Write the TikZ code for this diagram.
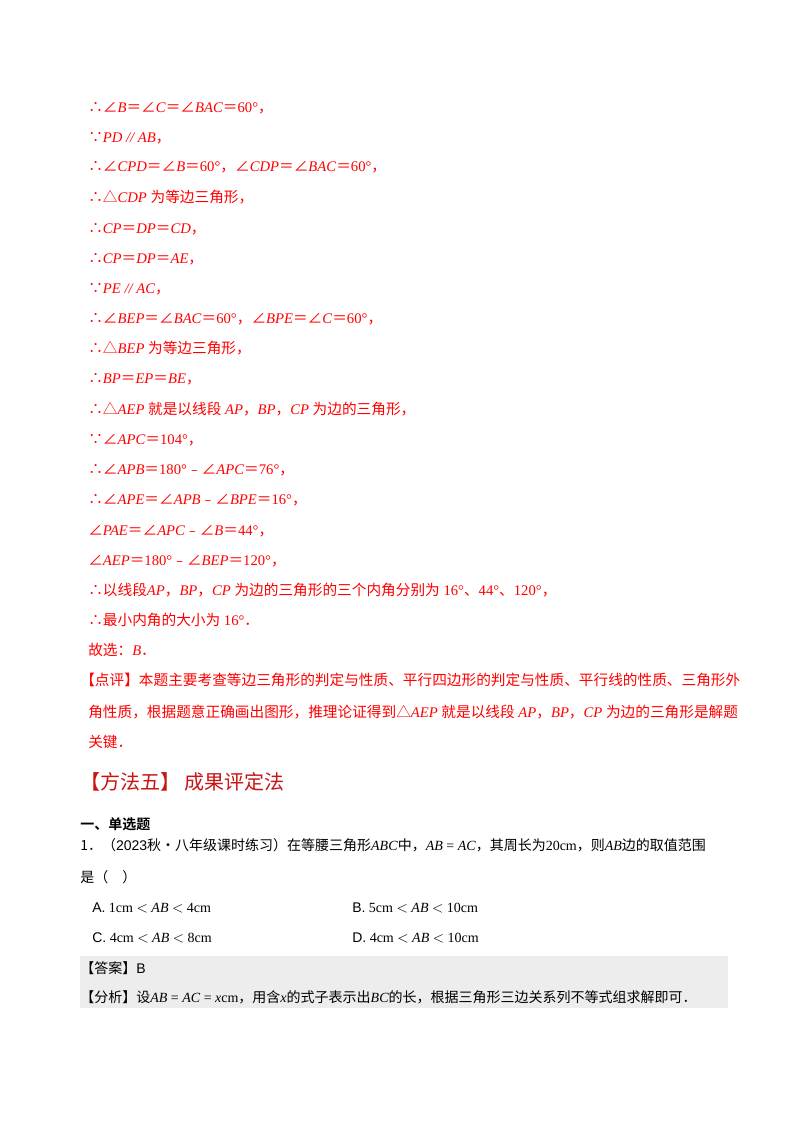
\documentclass[tikz,border=0pt]{standalone}
\usepackage{fontspec}
\setmainfont{Liberation Serif}
\newfontfamily\cjk{Noto Sans CJK SC}
\newfontfamily\cjkb{Noto Sans CJK SC Bold}
\newfontfamily\sans{Liberation Sans}
\newcommand\Z[1]{{\cjk #1}}
\newcommand\I[1]{\textit{#1}}
\definecolor{rd}{RGB}{255,0,0}
\definecolor{dr}{RGB}{200,20,20}
\begin{document}
\begin{tikzpicture}[x=0.75pt,y=-0.75pt,
  r/.style={anchor=base west,inner sep=0,text=rd,font=\fontsize{11}{13}\selectfont},
  k/.style={anchor=base west,inner sep=0,text=black,font=\fontsize{10.5}{13}\selectfont}]
\useasboundingbox (0,0) rectangle (800,1132);
\fill[white] (0,0) rectangle (800,1132);
\fill[black!7] (80,956) rectangle (728,1008);
\node[r] (l1) at (88,112) {\Z{∴∠}\I{B}\Z{＝∠}\I{C}\Z{＝∠}\I{BAC}\Z{＝}60°\Z{，}};
\node[r] (l2) at (88,142) {\Z{∵}\I{PD // AB}\Z{，}};
\node[r] (l3) at (88,171) {\Z{∴∠}\I{CPD}\Z{＝∠}\I{B}\Z{＝}60°\Z{，∠}\I{CDP}\Z{＝∠}\I{BAC}\Z{＝}60°\Z{，}};
\node[r] (l4) at (88,202) {\Z{∴△}\I{CDP} \Z{为等边三角形，}};
\node[r] (l5) at (88,233) {\Z{∴}\I{CP}\Z{＝}\I{DP}\Z{＝}\I{CD}\Z{，}};
\node[r] (l6) at (88,263) {\Z{∴}\I{CP}\Z{＝}\I{DP}\Z{＝}\I{AE}\Z{，}};
\node[r] (l7) at (88,293) {\Z{∵}\I{PE // AC}\Z{，}};
\node[r] (l8) at (88,323) {\Z{∴∠}\I{BEP}\Z{＝∠}\I{BAC}\Z{＝}60°\Z{，∠}\I{BPE}\Z{＝∠}\I{C}\Z{＝}60°\Z{，}};
\node[r] (l9) at (88,353) {\Z{∴△}\I{BEP} \Z{为等边三角形，}};
\node[r] (l10) at (88,383) {\Z{∴}\I{BP}\Z{＝}\I{EP}\Z{＝}\I{BE}\Z{，}};
\node[r] (l11) at (88,414) {\Z{∴△}\I{AEP} \Z{就是以线段} \I{AP}\Z{，}\I{BP}\Z{，}\I{CP} \Z{为边的三角形，}};
\node[r] (l12) at (88,444) {\Z{∵∠}\I{APC}\Z{＝}104°\Z{，}};
\node[r] (l13) at (88,474) {\Z{∴∠}\I{APB}\Z{＝}180°\Z{﹣∠}\I{APC}\Z{＝}76°\Z{，}};
\node[r] (l14) at (88,504) {\Z{∴∠}\I{APE}\Z{＝∠}\I{APB}\Z{﹣∠}\I{BPE}\Z{＝}16°\Z{，}};
\node[r] (l15) at (88,535) {\Z{∠}\I{PAE}\Z{＝∠}\I{APC}\Z{﹣∠}\I{B}\Z{＝}44°\Z{，}};
\node[r] (l16) at (88,565) {\Z{∠}\I{AEP}\Z{＝}180°\Z{﹣∠}\I{BEP}\Z{＝}120°\Z{，}};
\node[r] (l17) at (88,595) {\Z{∴以线段}\I{AP}\Z{，}\I{BP}\Z{，}\I{CP} \Z{为边的三角形的三个内角分别为} 16°\Z{、}44°\Z{、}120°\Z{，}};
\node[r] (l18) at (88,625) {\Z{∴最小内角的大小为} 16°\Z{．}};
\node[r] (l19) at (88,655) {\Z{故选：}\I{B}\Z{．}};
\node[r] (p1) at (80,685) {\Z{【点评】本题主要考查等边三角形的判定与性质、平行四边形的判定与性质、平行线的性质、三角形外}};
\node[r] (p2) at (88,717) {\Z{角性质，根据题意正确画出图形，推理论证得到△}\I{AEP} \Z{就是以线段} \I{AP}\Z{，}\I{BP}\Z{，}\I{CP} \Z{为边的三角形是解题}};
\node[r] (p3) at (88,747) {\Z{关键．}};
\node[anchor=base west,inner sep=0,text=dr,font=\fontsize{15}{18}\selectfont] (t) at (80,789) {\Z{【方法五】\ 成果评定法}};
\node[k] (s) at (80,829) {\cjkb 一、单选题};
\node[k] (q1) at (80,850) {\Z{1．（}{\sans 2023}\Z{秋·八年级课时练习）在等腰三角形}\I{ABC}\Z{中，}\I{AB} = \I{AC}\Z{，其周长为}20cm\Z{，则}\I{AB}\Z{边的取值范围}};
\node[k] (q2) at (80,882) {\Z{是（\quad）}};
\node[k] (a) at (92,912) {{\sans A.}\ 1cm $<$ \I{AB} $<$ 4cm};
\node[k] (b) at (352,912) {{\sans B.}\ 5cm $<$ \I{AB} $<$ 10cm};
\node[k] (c) at (92,942) {{\sans C.}\ 4cm $<$ \I{AB} $<$ 8cm};
\node[k] (d) at (352,942) {{\sans D.}\ 4cm $<$ \I{AB} $<$ 10cm};
\node[k] (ans) at (80,973) {\Z{【答案】}{\sans B}};
\node[k] (an) at (80,1002) {\Z{【分析】设}\I{AB} = \I{AC} = \I{x}cm\Z{，用含}\I{x}\Z{的式子表示出}\I{BC}\Z{的长，根据三角形三边关系列不等式组求解即可．}};
\end{tikzpicture}
\end{document}
